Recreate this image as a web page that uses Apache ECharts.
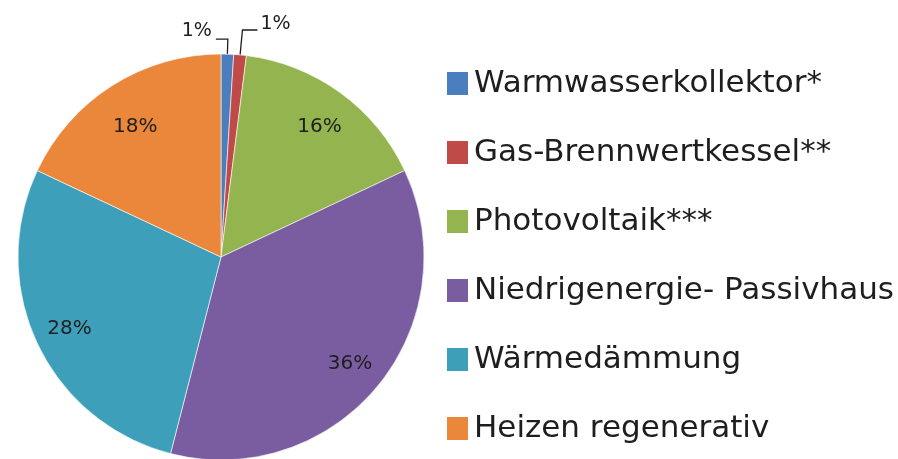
<!DOCTYPE html>
<html>
<head>
<meta charset="utf-8">
<script src="https://cdn.jsdelivr.net/npm/echarts@6/dist/echarts.min.js"></script>
<style>
  html, body { margin: 0; padding: 0; background: #ffffff; }
  #chart { width: 898px; height: 459px; }
</style>
</head>
<body>
<div id="chart"></div>
<script>
const categories = ['Warmwasserkollektor*', 'Gas-Brennwertkessel**', 'Photovoltaik***', 'Niedrigenergie- Passivhaus', 'Wärmedämmung', 'Heizen regenerativ'];
const values = [1, 1, 16, 36, 28, 18];
const colors = ['#4A7EBF', '#C04A48', '#93B44E', '#7A5CA0', '#3E9FBB', '#EA873B'];
const outsideLabelled = [0, 1];
// small nudges of the inside percentage labels (Excel "best fit" placement)
const labelNudges = [[0, 0], [0, 0], [0, 5], [0, 0], [0, 0], [4, 11]];

const fontFamily = 'DejaVu Sans';
const center = [221, 257];
const outerR = 203;

const mainData = categories.map((name, i) => ({
  name: name,
  value: values[i],
  itemStyle: { color: colors[i] },
  label: { show: outsideLabelled.includes(i) },
  labelLine: {
    show: outsideLabelled.includes(i),
    length: i === 0 ? 15 : 25,
    length2: i === 0 ? 12 : 15
  }
}));

const innerData = categories.map((name, i) => ({
  name: name,
  value: values[i],
  label: { show: !outsideLabelled.includes(i), offset: labelNudges[i] }
}));

const pctFormatter = p => Math.round(p.percent) + '%';

const chart = echarts.init(document.getElementById('chart'), null, { renderer: 'canvas' });
chart.setOption({
  backgroundColor: '#ffffff',
  animation: false,
  legend: {
    orient: 'vertical',
    left: 445,
    top: 68,
    padding: 0,
    itemWidth: 23,
    itemHeight: 25,
    itemGap: 38,
    icon: 'rect',
    selectedMode: false,
    data: categories,
    textStyle: { fontFamily: fontFamily, fontSize: 31, lineHeight: 31, color: '#1e1e1e' }
  },
  series: [
    {
      type: 'pie',
      name: 'main',
      center: center,
      radius: [0, outerR],
      startAngle: 90,
      clockwise: true,
      avoidLabelOverlap: false,
      silent: true,
      itemStyle: { borderColor: '#ffffff', borderWidth: 0.6 },
      label: {
        position: 'outside',
        formatter: pctFormatter,
        fontFamily: fontFamily,
        fontSize: 19,
        color: '#1e1e1e',
        distanceToLabelLine: 3
      },
      labelLine: { lineStyle: { color: '#1e1e1e', width: 1.3 } },
      labelLayout: function (params) {
        const pts = params.labelLinePoints;
        if (!pts) return {};
        const p0 = pts[0], p1 = pts[1], p2 = pts[2];
        if (params.dataIndex === 0) {
          const len2 = Math.abs(p2[0] - p1[0]);
          const end = [p1[0] - len2, p1[1]];
          return {
            labelLinePoints: [p0, p1, end],
            x: end[0] - 4,
            y: end[1] - 8,
            align: 'right',
            verticalAlign: 'middle'
          };
        }
        if (params.dataIndex === 1) {
          return {
            labelLinePoints: [p0, p1, p2],
            x: p2[0] + 3,
            y: p2[1] - 6,
            align: 'left',
            verticalAlign: 'middle'
          };
        }
        return {};
      },
      data: mainData
    },
    {
      type: 'pie',
      name: 'labels',
      center: center,
      radius: [126, outerR],
      startAngle: 90,
      clockwise: true,
      silent: true,
      itemStyle: { color: 'rgba(0,0,0,0)' },
      label: {
        position: 'inside',
        formatter: pctFormatter,
        fontFamily: fontFamily,
        fontSize: 20,
        color: '#1e1e1e'
      },
      labelLine: { show: false },
      data: innerData
    }
  ]
});
</script>
</body>
</html>
